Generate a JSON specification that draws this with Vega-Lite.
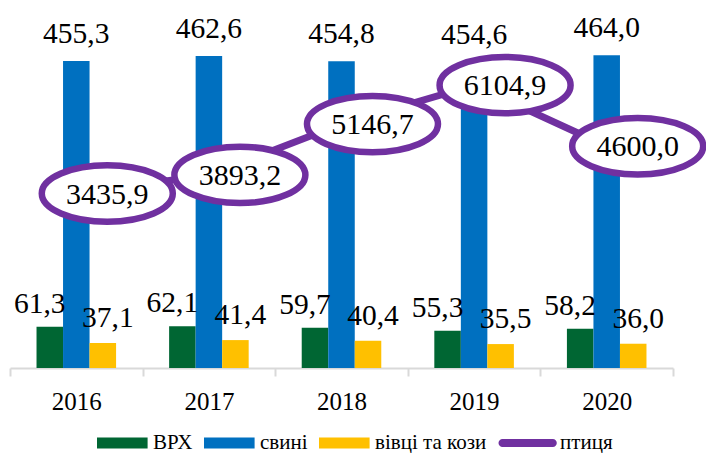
{
  "$schema": "https://vega.github.io/schema/vega-lite/v6.json",
  "width": 663,
  "height": 358,
  "autosize": {"type": "none"},
  "padding": {"left": 10, "top": 10, "right": 33, "bottom": 85},
  "background": "white",
  "config": {
    "view": {"stroke": null},
    "font": "Liberation Serif, Times New Roman, serif",
    "text": {"font": "Liberation Serif, Times New Roman, serif"},
    "locale": {"number": {"decimal": ",", "thousands": "", "grouping": [3], "currency": ["", ""]}}
  },
  "data": {
    "values": [
      {"year": "2016", "series": "ВРХ", "value": 61.3},
      {"year": "2016", "series": "свині", "value": 455.3},
      {"year": "2016", "series": "вівці та кози", "value": 37.1},
      {"year": "2016", "series": "птиця", "value": 3435.9},
      {"year": "2017", "series": "ВРХ", "value": 62.1},
      {"year": "2017", "series": "свині", "value": 462.6},
      {"year": "2017", "series": "вівці та кози", "value": 41.4},
      {"year": "2017", "series": "птиця", "value": 3893.2},
      {"year": "2018", "series": "ВРХ", "value": 59.7},
      {"year": "2018", "series": "свині", "value": 454.8},
      {"year": "2018", "series": "вівці та кози", "value": 40.4},
      {"year": "2018", "series": "птиця", "value": 5146.7},
      {"year": "2019", "series": "ВРХ", "value": 55.3},
      {"year": "2019", "series": "свині", "value": 454.6},
      {"year": "2019", "series": "вівці та кози", "value": 35.5},
      {"year": "2019", "series": "птиця", "value": 6104.9},
      {"year": "2020", "series": "ВРХ", "value": 58.2},
      {"year": "2020", "series": "свині", "value": 464.0},
      {"year": "2020", "series": "вівці та кози", "value": 36.0},
      {"year": "2020", "series": "птиця", "value": 4600.0}
    ]
  },
  "encoding": {
    "x": {
      "field": "year",
      "type": "nominal",
      "scale": {"paddingInner": 0, "paddingOuter": 0},
      "axis": {
        "title": null,
        "labelAngle": 0,
        "labelFont": "Liberation Serif, Times New Roman, serif",
        "labelFontSize": 25,
        "labelColor": "#000000",
        "labelPadding": 13,
        "domainColor": "#d9d9d9",
        "domainWidth": 2,
        "tickColor": "#d9d9d9",
        "tickWidth": 2,
        "tickSize": 8,
        "tickBand": "extent"
      }
    }
  },
  "layer": [
    {
      "transform": [{"filter": "datum.series !== 'птиця'"}],
      "encoding": {
        "y": {"field": "value", "type": "quantitative", "scale": {"domain": [0, 531], "nice": false, "zero": true}, "axis": null},
        "xOffset": {"field": "series", "type": "nominal", "sort": ["ВРХ", "свині", "вівці та кози"], "scale": {"paddingInner": 0, "paddingOuter": 1.1}}
      },
      "layer": [
        {
          "mark": {"type": "bar"},
          "encoding": {
            "color": {
              "field": "series",
              "type": "nominal",
              "scale": {"domain": ["ВРХ", "свині", "вівці та кози", "птиця"], "range": ["#006633", "#0070C0", "#FFC000", "#7030A0"]},
              "legend": {
                "title": null,
                "orient": "none",
                "direction": "horizontal",
                "legendX": 87,
                "legendY": 422,
                "padding": 0,
                "labelFont": "Liberation Serif, Times New Roman, serif",
                "labelFontSize": 21,
                "labelColor": "#000000",
                "symbolSize": 484,
                "symbolStrokeWidth": 0,
                "labelOffset": 34,
                "columnPadding": 11,
                "encode": {
                  "symbols": {
                    "update": {
                      "shape": [
                        {"test": "datum.value === 'птиця'", "value": "M-1.14,-0.36H3.44A0.36,0.36 0 0 1 3.44,0.36H-1.14A0.36,0.36 0 0 1 -1.14,-0.36Z"},
                        {"value": "M-1,-0.5H3.6V0.5H-1Z"}
                      ],
                      "fill": {"scale": "color", "field": "value"},
                      "fillOpacity": {"value": 1},
                      "strokeWidth": {"value": 0},
                      "opacity": {"value": 1}
                    }
                  }
                }
              }
            }
          }
        },
        {
          "transform": [{"filter": "datum.series === 'ВРХ'"}],
          "mark": {"type": "text", "baseline": "alphabetic", "dy": -14, "dx": -10, "fontSize": 29.5, "font": "Liberation Serif, Times New Roman, serif", "color": "#000000"},
          "encoding": {"text": {"field": "value", "type": "quantitative", "format": ".1f"}}
        },
        {
          "transform": [{"filter": "datum.series === 'свині'"}],
          "mark": {"type": "text", "baseline": "alphabetic", "dy": -18, "fontSize": 29.5, "font": "Liberation Serif, Times New Roman, serif", "color": "#000000"},
          "encoding": {"text": {"field": "value", "type": "quantitative", "format": ".1f"}}
        },
        {
          "transform": [{"filter": "datum.series === 'вівці та кози'"}],
          "mark": {"type": "text", "baseline": "alphabetic", "dy": -16, "dx": 5, "fontSize": 29.5, "font": "Liberation Serif, Times New Roman, serif", "color": "#000000"},
          "encoding": {"text": {"field": "value", "type": "quantitative", "format": ".1f"}}
        }
      ]
    },
    {
      "transform": [{"filter": "datum.series === 'птиця'"}],
      "encoding": {
        "y": {"field": "value", "type": "quantitative", "scale": {"domain": [-862, 7956], "nice": false, "zero": false}, "axis": null}
      },
      "layer": [
        {
          "mark": {"type": "line", "color": "#7030A0", "strokeWidth": 7},
          "encoding": {}
        },
        {
          "mark": {
            "type": "point",
            "shape": "M-0.527,0A1,0.43 0 1 0 1.473,0A1,0.43 0 1 0 -0.527,0Z",
            "size": 17161,
            "filled": true,
            "fill": "#ffffff",
            "stroke": "#7030A0",
            "strokeWidth": 6.5,
            "opacity": 1,
            "fillOpacity": 1,
            "strokeOpacity": 1
          },
          "encoding": {}
        },
        {
          "mark": {"type": "text", "dx": 31, "dy": 1, "baseline": "middle", "fontSize": 30, "font": "Liberation Serif, Times New Roman, serif", "color": "#000000"},
          "encoding": {"text": {"field": "value", "type": "quantitative", "format": ".1f"}}
        }
      ]
    }
  ],
  "resolve": {"scale": {"y": "independent"}}
}
